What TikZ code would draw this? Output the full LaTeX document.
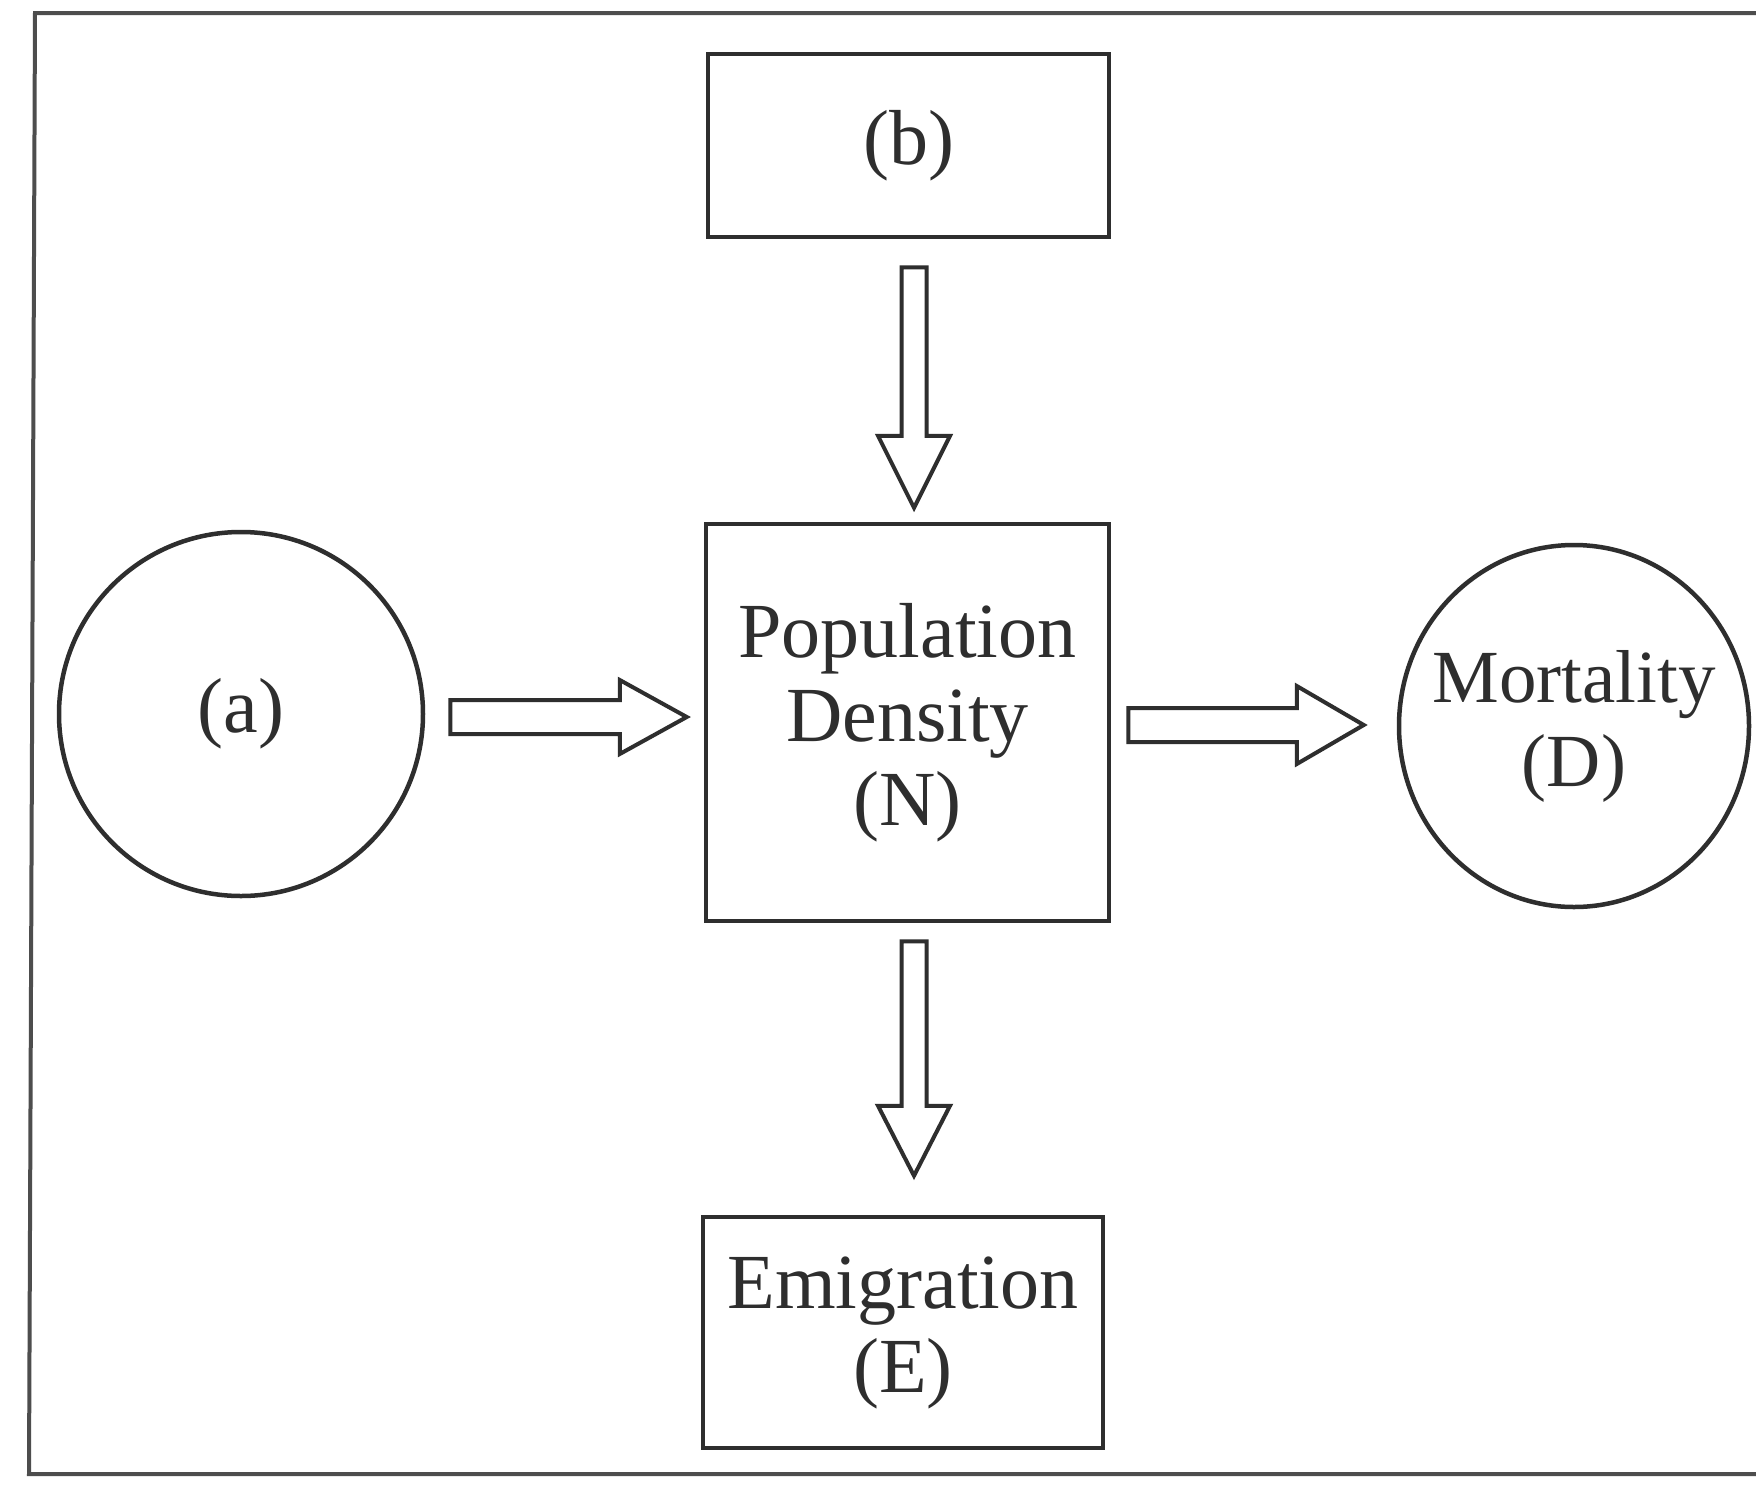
\documentclass[tikz,border=0pt]{standalone}
\usepackage{fontspec}
\setmainfont{Liberation Serif}
\usetikzlibrary{calc,shapes.geometric}
\definecolor{ink}{HTML}{2E2E2E}
\tikzset{
  lbl/.style={text=ink, align=center, inner sep=0pt, font=\fontsize{78}{84}\selectfont},
  box/.style={lbl, draw=ink, line width=4.5pt, rectangle},
  ring/.style={lbl, draw=ink, line width=4.5pt, ellipse},
  frameline/.style={draw=ink!85, line width=4pt},
  hollowarrow/.style={draw=ink, line width=4pt, line join=miter, fill=white}
}
% start, tip, shaft half width, head half width, head length
\newcommand\rightblock[5]{%
  \draw[hollowarrow] ($(#1)+(0,-#3)$) -- ($(#2)+(-#5,-#3)$) -- ($(#2)+(-#5,-#4)$) -- (#2)
    -- ($(#2)+(-#5,#4)$) -- ($(#2)+(-#5,#3)$) -- ($(#1)+(0,#3)$) -- cycle;}
\newcommand\downblock[5]{%
  \draw[hollowarrow] ($(#1)+(-#3,0)$) -- ($(#2)+(-#3,-#5)$) -- ($(#2)+(-#4,-#5)$) -- (#2)
    -- ($(#2)+(#4,-#5)$) -- ($(#2)+(#3,-#5)$) -- ($(#1)+(#3,0)$) -- cycle;}
\begin{document}
\begin{tikzpicture}[x=1pt,y=-1pt]
\useasboundingbox (0,0) rectangle (1756,1486);
\fill[white] (0,0) rectangle (1756,1486);
\draw[frameline] (1756,13) -- (35,13) -- (29,1474) -- (1756,1474);

\node[box, minimum width=401, minimum height=183] (b) at (908.5,145.5) {(b)};
\node[box, minimum width=403, minimum height=397] (N) at (907.5,722.5) {Population\\Density\\(N)};
\node[box, minimum width=400, minimum height=231] (E) at (903,1332.5) {Emigration\\(E)};
\node[ring, minimum width=364, minimum height=364] (a) at (241,714) {(a)};
\node[ring, inner xsep=-40pt, minimum width=350, minimum height=362, font=\fontsize{75}{84}\selectfont] (D) at (1574,726) {Mortality\\(D)};

\coordinate (a1) at ($(a.east)+(25,3)$);
\coordinate (a2) at ($(N.west)+(-17,-5.5)$);
\coordinate (d1) at ($(N.east)+(17,2.5)$);
\coordinate (d2) at ($(D.west)+(-33,-1)$);
\coordinate (b1) at ($(b.south)+(5.5,28)$);
\coordinate (b2) at ($(N.north)+(6.5,-14)$);
\coordinate (e1) at ($(N.south)+(6.5,18)$);
\coordinate (e2) at ($(E.north)+(11,-39)$);

\rightblock{a1}{a2}{17}{37}{67}
\rightblock{d1}{d2}{17}{39}{67}
\downblock{b1}{b2}{12.5}{36}{72}
\downblock{e1}{e2}{12.5}{36}{70}
\end{tikzpicture}
\end{document}
